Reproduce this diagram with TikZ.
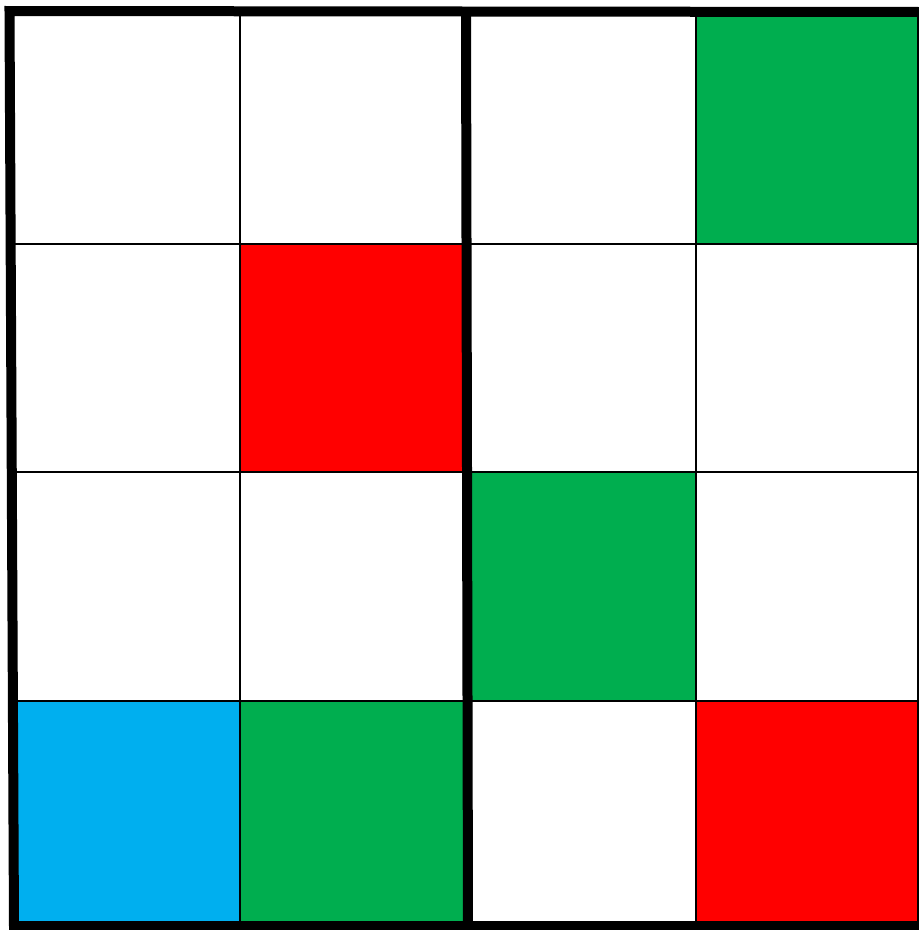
\documentclass[tikz,border=0pt]{standalone}
\definecolor{cgreen}{HTML}{00AE4F}
\definecolor{cred}{HTML}{FF0000}
\definecolor{cblue}{HTML}{00AFEF}
\begin{document}
\begin{tikzpicture}[x=1pt,y=-1pt,
  thinline/.style={line width=2pt,black},
  thickline/.style={line width=10pt,black}]
\useasboundingbox (0,0) rectangle (919,930);
\clip (0,0) rectangle (919,930);
% fills
\fill[cgreen] (696,11) rectangle (922,243.5);
\fill[cred] (240,243.5) rectangle (467,471.5);
\fill[cgreen] (467,471.5) rectangle (696,700.5);
\fill[cblue] (13,700.5) rectangle (240,926);
\fill[cgreen] (240,700.5) rectangle (467,926);
\fill[cred] (696,700.5) rectangle (922,926);
% thin grid lines
\draw[thinline] (240,11) -- (240,926);
\draw[thinline] (696,11) -- (696,926);
\draw[thinline] (10,243.5) -- (922,243.5);
\draw[thinline] (12,471.5) -- (922,471.5);
\draw[thinline] (13,700.5) -- (922,700.5);
% thick lines
\draw[thickline,line join=miter] (922,12) -- (9.5,11) -- (14,926) -- (922,926) -- cycle;
\draw[thickline] (466,11) -- (468,926);
\end{tikzpicture}
\end{document}
